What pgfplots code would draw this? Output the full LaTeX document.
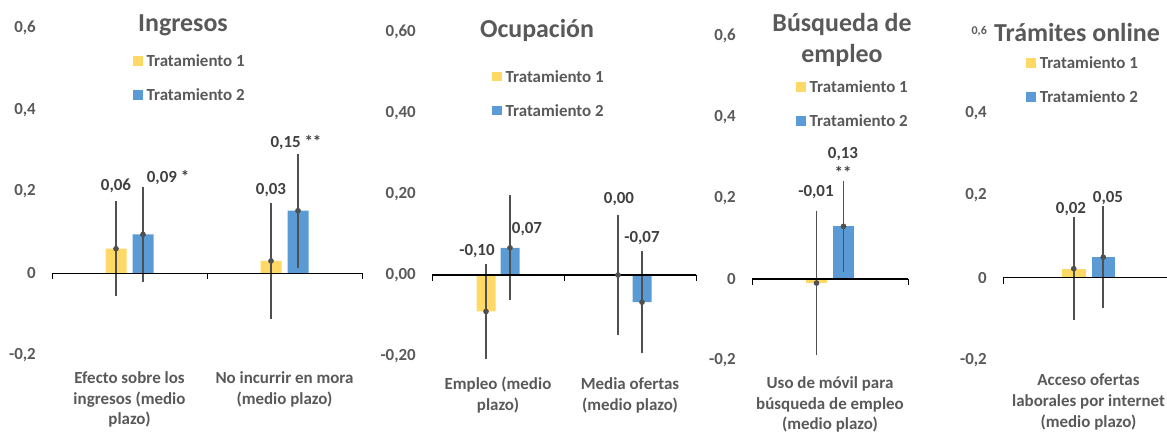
\documentclass[border=0pt]{standalone}
\usepackage{pgfplots}
\pgfplotsset{compat=1.18}
\usepackage{fontspec}
\setmainfont{Carlito}
\definecolor{tY}{HTML}{FFD966}
\definecolor{tB}{HTML}{5B9BD5}
\definecolor{txt}{HTML}{595959}
\definecolor{lab}{HTML}{404040}
\definecolor{errc}{HTML}{505050}
\newcommand{\fs}{\bfseries\fontsize{17}{21}\selectfont}
\newcommand{\tfs}{\bfseries\fontsize{26}{32}\selectfont}
\newcommand{\lab}[3]{\node[font=\fs, text=lab, inner sep=0pt] at ({#1*1bp},{(432-#2)*1bp}) {#3};}
\tikzset{zl/.style={black, line width=1.2bp}, tk/.style={black, line width=1bp}}
\pgfplotsset{
  panel/.style={
    scale only axis, clip=false,
    axis line style={draw=none},
    major tick length=0pt,
    ymin=-0.2, ymax=0.6,
    ytick={-0.2,0,0.2,0.4,0.6},
    yticklabels={{-0,2},{0},{0,2},{0,4},{0,6}},
    xtick={0.5,1.5},
    ybar,
    ticklabel style={font=\fs, text=txt, inner sep=0pt},
    yticklabel style={anchor=east, xshift=-16bp},
    xticklabel style={anchor=north, align=center},
    legend cell align=left,
    legend style={draw=none, fill=none, inner sep=0pt, anchor=north west, font=\fs, text=txt,
      row sep=23bp, column sep=4bp, nodes={inner sep=0pt, text height=11bp, text depth=0pt}},
  },
  T1/.style={fill=tY, draw=none, legend image code/.code={\fill[tY] (0bp,-4.75bp) rectangle (9.5bp,4.75bp);}},
  T2/.style={fill=tB, draw=none, legend image code/.code={\fill[tB] (0bp,-4.75bp) rectangle (9.5bp,4.75bp);}},
  eb/.style={forget plot, only marks, mark=none, draw=errc, color=errc, line width=1.6bp, bar shift=0pt,
    error bars/.cd, y dir=both, y explicit,
    error bar style={draw=errc, line width=1.6bp},
    error mark options={draw=errc, line width=1.6bp, mark size=3.5bp}},
}
\begin{document}
\begin{tikzpicture}
\path[use as bounding box] (0,0) rectangle (1167bp,432bp);
% Panel 1
\begin{axis}[panel, at={(52bp,77bp)}, anchor=south west, width=310bp, height=327bp,
  xmin=0, xmax=2, bar width=21bp,
  xticklabels={{Efecto sobre los\\ingresos (medio\\plazo)},{No incurrir en mora\\(medio plazo)}},
  xticklabel style={yshift=-16bp},
  legend style={at={(0.261,0.916)}}]
\addplot[T1, bar shift=-13.5bp] coordinates {(0.5,0.06) (1.5,0.03)};
\addplot[T2, bar shift=13.5bp] coordinates {(0.5,0.095) (1.5,0.153)};
\legend{Tratamiento 1, Tratamiento 2}
\addplot[eb] coordinates {(0.4129,0.06) +- (0,0.108) (1.4129,0.03) +- (0,0.133)};
\addplot[eb] coordinates {(0.5871,0.095) +- (0,0.107) (1.5871,0.153) +- (0,0.131)};
\draw[zl] (axis cs:0,0) -- (axis cs:2,0);
\draw[tk] (axis cs:0,0) -- ([yshift=-6bp]axis cs:0,0);
\draw[tk] (axis cs:1,0) -- ([yshift=-6bp]axis cs:1,0);
\draw[tk] (axis cs:2,0) -- ([yshift=-6bp]axis cs:2,0);
\end{axis}
% Panel 2
\begin{axis}[panel, at={(432bp,76bp)}, anchor=south west, width=264bp, height=324bp,
  xmin=0, xmax=2, bar width=19bp,
  yticklabels={{-0,20},{0,00},{0,20},{0,40},{0,60}},
  xticklabels={{Empleo (medio\\plazo)},{Media ofertas\\(medio plazo)}},
  xticklabel style={yshift=-21bp},
  legend style={at={(0.227,0.88)}}]
\addplot[T1, bar shift=-12bp] coordinates {(0.5,-0.09) (1.5,0)};
\addplot[T2, bar shift=12bp] coordinates {(0.5,0.067) (1.5,-0.067)};
\legend{Tratamiento 1, Tratamiento 2}
\addplot[eb] coordinates {(0.4091,-0.09) +- (0,0.108) (1.4091,0) +- (0,0.14)};
\addplot[eb] coordinates {(0.5909,0.067) +- (0,0.121) (1.5909,-0.067) +- (0,0.117)};
\draw[zl] (axis cs:0,0) -- (axis cs:2,0);
\draw[tk] (axis cs:0,0) -- ([yshift=-6bp]axis cs:0,0);
\draw[tk] (axis cs:1,0) -- ([yshift=-6bp]axis cs:1,0);
\draw[tk] (axis cs:2,0) -- ([yshift=-6bp]axis cs:2,0);
\end{axis}
% Panel 3
\begin{axis}[panel, at={(752bp,72bp)}, anchor=south west, width=156bp, height=324bp,
  xmin=0, xmax=1, xtick={0.5}, bar width=21bp,
  xticklabels={{Uso de móvil para\\búsqueda de empleo\\(medio plazo)}},
  xticklabel style={yshift=-16bp},
  legend style={at={(0.282,0.86)}}]
\addplot[T1, bar shift=-13.5bp] coordinates {(0.5,-0.01)};
\addplot[T2, bar shift=13.5bp] coordinates {(0.5,0.13)};
\legend{Tratamiento 1, Tratamiento 2}
\addplot[eb] coordinates {(0.4135,-0.01) +- (0,0.17)};
\addplot[eb] coordinates {(0.5865,0.13) +- (0,0.104)};
\draw[zl] (axis cs:0,0) -- (axis cs:1,0);
\draw[tk] (axis cs:0,0) -- ([yshift=-6bp]axis cs:0,0);
\draw[tk] (axis cs:1,0) -- ([yshift=-6bp]axis cs:1,0);
\end{axis}
% Panel 4
\begin{axis}[panel, at={(1003bp,72bp)}, anchor=south west, width=171bp, height=329bp,
  xmin=0, xmax=1, xtick={0.5}, bar width=23.5bp,
  yticklabels={{-0,2},{0},{0,2},{0,4},{\fontsize{12}{14}\selectfont 0,6}},
  xticklabels={{Acceso ofertas\\laborales por internet\\(medio plazo)}},
  xticklabel style={yshift=-14bp},
  legend style={at={(0.135,0.92)}}]
\addplot[T1, bar shift=-14.75bp] coordinates {(0.5,0.022)};
\addplot[T2, bar shift=14.75bp] coordinates {(0.5,0.05)};
\legend{Tratamiento 1, Tratamiento 2}
\addplot[eb] coordinates {(0.4137,0.022) +- (0,0.116)};
\addplot[eb] coordinates {(0.5863,0.05) +- (0,0.116)};
\draw[zl] (axis cs:0,0) -- (axis cs:1,0);
\draw[tk] (axis cs:0,0) -- ([yshift=-6bp]axis cs:0,0);
\end{axis}
% Titles
\node[font=\tfs, text=txt, inner sep=0pt] at (183bp,{(432-25)*1bp}) {Ingresos};
\node[font=\tfs, text=txt, inner sep=0pt] at (537bp,{(432-30)*1bp}) {Ocupación};
\node[font=\tfs, text=txt, inner sep=0pt, align=center] at (842bp,{(432-40)*1bp}) {Búsqueda de\\empleo};
\node[font=\tfs, text=txt, inner sep=0pt] at (1077bp,{(432-33)*1bp}) {Trámites online};
% Data labels
\lab{116}{186}{0,06}
\lab{168}{178}{0,09 *}
\lab{271}{190}{0,03}
\lab{296}{143}{0,15 **}
\lab{477}{251}{-0,10}
\lab{527}{229}{0,07}
\lab{619}{199}{0,00}
\lab{642}{238}{-0,07}
\lab{816}{192}{-0,01}
\lab{843}{154}{0,13}
\lab{843}{172}{**}
\lab{1071}{209}{0,02}
\lab{1108}{198}{0,05}
\end{tikzpicture}
\end{document}
